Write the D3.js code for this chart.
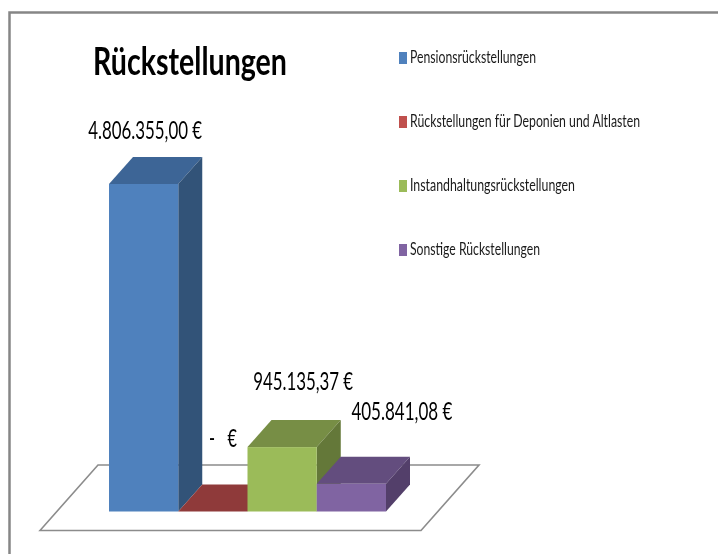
<!DOCTYPE html>
<html>
<head>
<meta charset="utf-8">
<script src="https://cdn.jsdelivr.net/npm/d3@7"></script>
<style>
    html, body { margin: 0; padding: 0; background: #fff; }
    svg { display: block; }
    text { font-family: Lato, "Open Sans", sans-serif; fill: #000; white-space: pre; filter: blur(0.35px); }
    .legend text { fill: #1a1a1a; }
</style>
</head>
<body>
<div id="chart"></div>
<script>
// chart values
var categories = [
    'Pensionsrückstellungen',
    'Rückstellungen für Deponien und Altlasten',
    'Instandhaltungsrückstellungen',
    'Sonstige Rückstellungen'
];
var values = [4806355.00, 0, 945135.37, 405841.08];
var valueLabels = ['4.806.355,00 €', '-   €', '945.135,37 €', '405.841,08 €'];
var frontColors = ['#4f81bd', '#8f3a3a', '#9bbb59', '#8064a2'];
var topColors = ['#3d6596', '#8f3a3a', '#778e45', '#634d7e'];
var sideColors = ['#325378', '#722e2e', '#647839', '#533f6a'];
var legendColors = ['#4f81bd', '#c0504d', '#9bbb59', '#8064a2'];

var width = 718, height = 554;
var baseY = 511.5, depthX = 24, depthY = 27;

var svg = d3.select('#chart').append('svg')
    .attr('width', width)
    .attr('height', height);

// outer chart frame, only top and left edge are visible
svg.append('path')
    .attr('d', 'M9.5,554V12.5H718')
    .attr('fill', 'none')
    .attr('stroke', '#868686')
    .attr('stroke-width', 2.5);

// floor of the 3d chart
svg.append('path')
    .attr('d', 'M40,530.5L98,465H479L421,530.5Z')
    .attr('fill', '#fff')
    .attr('stroke', '#8c8c8c')
    .attr('stroke-width', 1.6);

var x = d3.scaleBand()
    .domain(categories)
    .range([109, 386]);

var y = d3.scaleLinear()
    .domain([0, values[0]])
    .range([baseY, 184]);

var bars = svg.selectAll('g.bar')
    .data(categories)
    .enter()
    .append('g')
    .attr('class', 'bar');

bars.append('path')
    .attr('fill', function (d, i) { return topColors[i]; })
    .attr('d', function (d, i) {
        var x0 = x(d), x1 = x0 + x.bandwidth(), yTop = y(values[i]);
        return 'M' + x0 + ',' + yTop + 'L' + (x0 + depthX) + ',' + (yTop - depthY) +
            'H' + (x1 + depthX) + 'L' + x1 + ',' + yTop + 'Z';
    });

bars.append('path')
    .attr('fill', function (d, i) { return sideColors[i]; })
    .attr('d', function (d, i) {
        var x1 = x(d) + x.bandwidth(), yTop = y(values[i]);
        return 'M' + x1 + ',' + yTop + 'L' + (x1 + depthX) + ',' + (yTop - depthY) +
            'V' + (baseY - depthY) + 'L' + x1 + ',' + baseY + 'Z';
    });

bars.append('rect')
    .attr('x', function (d) { return x(d); })
    .attr('y', function (d, i) { return y(values[i]); })
    .attr('width', x.bandwidth())
    .attr('height', function (d, i) { return baseY - y(values[i]); })
    .attr('fill', function (d, i) { return frontColors[i]; });

// labels were moved by hand in the original, so each has its own offset from the bar
var labelDx = [-55.5, -4, -29, 0];
var labelDy = [18.5, 38, 30.5, 36.5];
var labelWidths = [114, 28, 100, 101];
svg.selectAll('text.value')
    .data(valueLabels)
    .enter()
    .append('text')
    .attr('class', 'value')
    .attr('x', function (d, i) { return x(categories[i]) + x.bandwidth() / 2 + labelDx[i]; })
    .attr('y', function (d, i) { return y(values[i]) - depthY - labelDy[i]; })
    .attr('textLength', function (d, i) { return labelWidths[i]; })
    .attr('lengthAdjust', 'spacingAndGlyphs')
    .style('font-size', '25px')
    .text(function (d) { return d; });

svg.append('text')
    .attr('x', 93)
    .attr('y', 74.5)
    .attr('textLength', 194)
    .attr('lengthAdjust', 'spacingAndGlyphs')
    .style('font-size', '39px')
    .style('font-weight', 'bold')
    .text('Rückstellungen');

// legend
var legendY = d3.scalePoint()
    .domain(categories)
    .range([58, 250]);
var legendWidths = [126, 230, 165, 130];

var legend = svg.selectAll('g.legend')
    .data(categories)
    .enter()
    .append('g')
    .attr('class', 'legend')
    .attr('transform', function (d) { return 'translate(399,' + legendY(d) + ')'; });

legend.append('rect')
    .attr('y', -6)
    .attr('width', 8)
    .attr('height', 12)
    .attr('fill', function (d, i) { return legendColors[i]; });

legend.append('text')
    .attr('x', 11)
    .attr('y', 5)
    .attr('textLength', function (d, i) { return legendWidths[i]; })
    .attr('lengthAdjust', 'spacingAndGlyphs')
    .style('font-size', '16.5px')
    .text(function (d) { return d; });
</script>
</body>
</html>
